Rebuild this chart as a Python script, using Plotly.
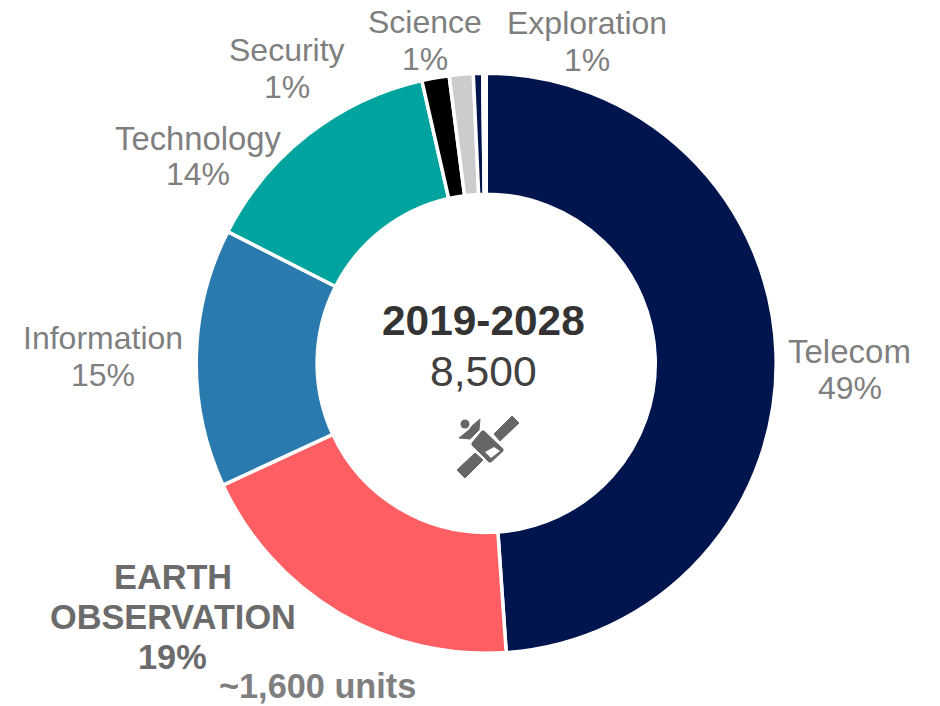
import plotly.graph_objects as go

W, H = 940, 706

categories = ["Telecom", "Earth Observation", "Information", "Technology", "Security", "Science", "Exploration", ""]
values = [48.9, 19.2, 14.4, 13.94, 1.52, 1.33, 0.52, 0.19]
colors = ["#00144D", "#FF5F63", "#2A7AB0", "#00A39D", "#000000", "#CCCCCC", "#00144D", "#FFFFFF"]

GREY = "#7F7F7F"
DARK = "#6B6B6B"
labels = [
    ("Telecom", 849.5, 351, 33, False, GREY), ("49%", 850, 388, 32, False, GREY),
    ("Information", 103, 338, 32, False, GREY), ("15%", 103, 375, 32, False, GREY),
    ("Technology", 198, 138, 32.8, False, GREY), ("14%", 198, 174, 32, False, GREY),
    ("Security", 287, 50, 32, False, GREY), ("1%", 287, 87, 32, False, GREY),
    ("Science", 425, 22, 32, False, GREY), ("1%", 425, 59, 32, False, GREY),
    ("Exploration", 587, 23, 32, False, GREY), ("1%", 587, 60, 32, False, GREY),
    ("EARTH", 172.5, 577, 34.3, True, DARK), ("OBSERVATION", 172.5, 617, 34.3, True, DARK),
    ("19%", 172.5, 657, 34.3, True, DARK), ("~1,600 units", 317, 686, 34.3, True, GREY),
    ("2019-2028", 484, 320, 42.4, True, "#333333"), ("8,500", 484, 371, 42.6, False, "#404040"),
]


def px(x):
    return x / W


def py(y):
    return 1 - y / H


cx, cy, R = 486.2, 363.3, 290

fig = go.Figure(go.Pie(
    labels=categories, values=values, sort=False, direction="clockwise", rotation=0,
    hole=0.583, textinfo="none", hoverinfo="label+percent", showlegend=False,
    marker=dict(colors=colors, line=dict(color="#FFFFFF", width=3.5)),
    domain=dict(x=[px(cx - R), px(cx + R)], y=[py(cy + R), py(cy - R)]),
))

for text, x, y, size, bold, color in labels:
    fig.add_annotation(
        text=f"<b>{text}</b>" if bold else text, x=px(x), y=py(y),
        xref="paper", yref="paper", xanchor="center", yanchor="middle", showarrow=False,
        font=dict(family="Liberation Sans", size=size, color=color),
    )


def path(points):
    return "M " + " L ".join(f"{px(x):.5f},{py(y):.5f}" for x, y in points) + " Z"


ICON = "#666666"
icon_parts = [
    ([(512, 416), (519, 423), (500, 441), (494, 434)], ICON),
    ([(475, 453), (483, 460), (465, 478), (457, 470)], ICON),
    ([(484, 431), (503, 449), (503, 451), (491, 462), (489, 462), (472, 445), (472, 443), (482, 431)], ICON),
    ([(480, 419), (479, 430), (470, 439), (459, 438), (469, 430), (472, 426)], ICON),
]
shapes = [dict(type="path", xref="paper", yref="paper", path=path(p), fillcolor=f, line=dict(color=f, width=1))
          for p, f in icon_parts]
shapes.append(dict(type="path", xref="paper", yref="paper", path=path([(494, 447), (500, 451), (491, 458), (485, 452)]),
                   fillcolor="#FFFFFF", line=dict(color="#FFFFFF", width=0)))
shapes.append(dict(type="circle", xref="paper", yref="paper", x0=px(460.5), x1=px(469.5),
                   y0=py(428.5), y1=py(419.5), fillcolor=ICON, line=dict(color=ICON, width=0)))

fig.update_layout(width=W, height=H, margin=dict(l=0, r=0, t=0, b=0),
                  paper_bgcolor="#FFFFFF", shapes=shapes)
fig.write_html("out.html", config=dict(displayModeBar=False),
               post_script="document.body.style.margin='0';document.documentElement.style.overflow='hidden';")
